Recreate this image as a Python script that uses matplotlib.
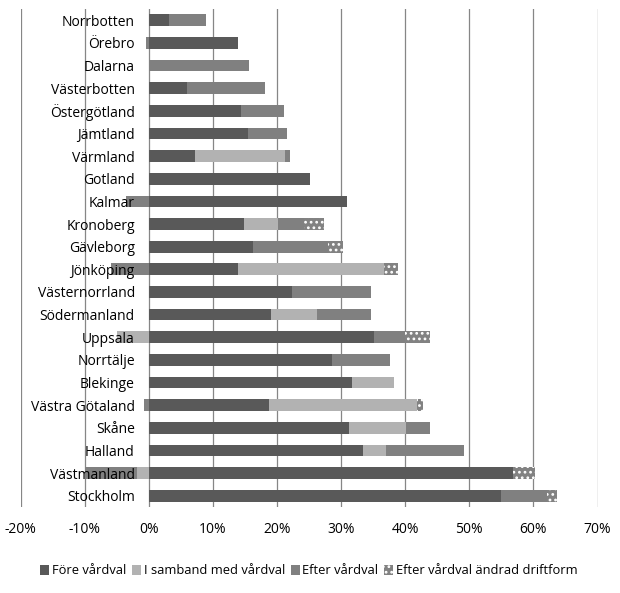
import numpy as np
import matplotlib
matplotlib.use('Agg')
import matplotlib.pyplot as plt
from matplotlib.patches import Patch

plt.rcParams['font.family'] = ['Open Sans', 'DejaVu Sans']
plt.rcParams['hatch.linewidth'] = 1.2

regions = ['Norrbotten', 'Örebro', 'Dalarna', 'Västerbotten', 'Östergötland',
           'Jämtland', 'Värmland', 'Gotland', 'Kalmar', 'Kronoberg', 'Gävleborg',
           'Jönköping', 'Västernorrland', 'Södermanland', 'Uppsala', 'Norrtälje',
           'Blekinge', 'Västra Götaland', 'Skåne', 'Halland', 'Västmanland',
           'Stockholm']

# andel (%) per kategori
fore = [3.1, 13.9, 0, 5.9, 14.4, 15.5, 7.2, 25.1, 30.9, 14.9, 16.3,
        14.0, 22.4, 19.1, 35.2, 28.6, 31.7, 18.8, 31.3, 33.5, 56.8, 54.9]
samband = [0, 0, 0, 0, 0, 0, 14.1, 0, 0, 5.2, 0,
           22.7, 0, 7.2, -4.9, 0, 6.6, 23.1, 8.9, 3.5, -1.8, 0]
efter = [5.8, -0.4, 15.7, 12.2, 6.7, 6.0, 0.7, 0, -3.6, 4.1, 11.7,
         -5.9, 12.2, 8.4, 4.7, 9.0, 0, -0.7, 3.7, 12.1, -8.2, 7.3]
driftform = [0, 0, 0, 0, 0, 0, 0, 0, 0, 3.1, 2.3,
             2.2, 0, 0, 4.0, 0, 0, 0.9, 0, 0, 3.4, 1.5]

series = [
    ('Före vårdval', fore, '#595959', None),
    ('I samband med vårdval', samband, '#b2b2b2', None),
    ('Efter vårdval', efter, '#808080', None),
    ('Efter vårdval ändrad driftform', driftform, '#828282', '...'),
]

fig = plt.figure(figsize=(6.2, 5.93), dpi=100)
ax = fig.add_axes([20.5 / 620, 1 - 507 / 593, 577 / 620, 498 / 593])

y = np.arange(len(regions))
pos = np.zeros(len(regions))
neg = np.zeros(len(regions))
h = 0.52
for name, vals, col, hatch in series:
    v = np.array(vals, dtype=float)
    left = np.where(v >= 0, pos, neg)
    if hatch:
        ax.barh(y, v, left=left, height=h, color=col, edgecolor='white',
                hatch=hatch, linewidth=0, zorder=1)
    else:
        ax.barh(y, v, left=left, height=h, color=col, linewidth=0, zorder=1)
    pos = pos + np.clip(v, 0, None)
    neg = neg + np.clip(v, None, 0)

ax.set_xlim(-20, 70)
ax.set_ylim(len(regions) - 0.5, -0.5)
xt = np.arange(-20, 71, 10)
for t in xt:
    ax.axvline(t, color='#868686', lw=0.9, zorder=0)
ax.set_xticks(xt)
ax.set_xticklabels(['%d%%' % t for t in xt], fontsize=10)
ax.tick_params(axis='x', length=0, pad=11)

ax.set_yticks(y)
ax.set_yticklabels(regions, fontsize=10)
ax.spines['left'].set_position(('data', 0))
ax.tick_params(axis='y', length=0, pad=10)
ax.yaxis.set_zorder(3)
for s in ax.spines.values():
    s.set_visible(False)

handles = [Patch(facecolor=c, edgecolor='white' if ht else c, hatch=ht, linewidth=0, label=n)
           for n, vals, c, ht in series]
fig.legend(handles=handles, loc='center', bbox_to_anchor=(0.498, 1 - 571 / 593), ncol=4,
           frameon=False, fontsize=9.3, handlelength=0.7, handleheight=0.7,
           handletextpad=0.2, columnspacing=0.45, borderaxespad=0)

fig.savefig('out.png', dpi=100, facecolor='white')
